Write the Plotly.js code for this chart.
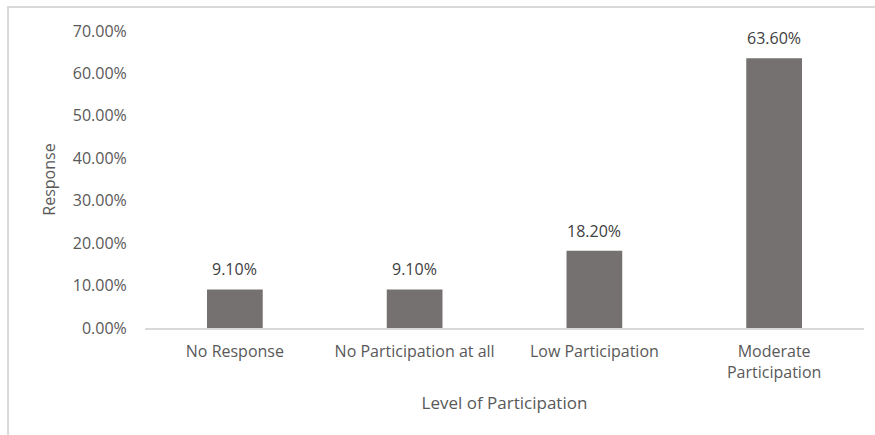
<!DOCTYPE html>
<html>
<head>
<meta charset="utf-8">
<script src="https://cdn.plot.ly/plotly-3.0.1.min.js"></script>
<style>html,body{margin:0;padding:0;background:#fff;}#chart{width:875px;height:435px;}</style>
</head>
<body>
<div id="chart"></div>
<script>
const categories = ["No Response", "No Participation at all", "Low Participation", "Moderate<br>Participation"];
const values = [0.091, 0.091, 0.182, 0.636];
const labels = ["9.10%", "9.10%", "18.20%", "63.60%"];
const yTickVals = [0, 0.1, 0.2, 0.3, 0.4, 0.5, 0.6, 0.7];

const fontFam = "Open Sans, sans-serif";
const txtColor = "#595959";

const trace = {
  type: "bar",
  x: categories,
  y: values,
  marker: {color: "#767171"},
  width: 0.31,
  hoverinfo: "skip"
};

const annotations = categories.map((c, i) => ({
  x: c, y: values[i], xref: "x", yref: "y",
  text: labels[i], showarrow: false, yanchor: "bottom", yshift: 7,
  font: {family: fontFam, size: 16, color: "#404040"}
}));

const layout = {
  width: 875, height: 435,
  margin: {l: 145, r: 11, t: 31, b: 107},
  paper_bgcolor: "#fff", plot_bgcolor: "#fff",
  showlegend: false,
  font: {family: fontFam, color: txtColor, size: 16},
  xaxis: {
    type: "category",
    showgrid: false, zeroline: false,
    showline: true, linecolor: "#d9d9d9", linewidth: 1.5,
    ticks: "outside", ticklen: 8, tickcolor: "rgba(0,0,0,0)",
    tickfont: {family: fontFam, size: 16, color: txtColor},
    title: {text: "Level of Participation", font: {family: fontFam, size: 17, color: txtColor}, standoff: 15}
  },
  yaxis: {
    range: [0, 0.7],
    tickvals: yTickVals,
    tickformat: ".2%",
    showgrid: false, zeroline: false, showline: false,
    ticks: "outside", ticklen: 14, tickcolor: "rgba(0,0,0,0)",
    tickfont: {family: fontFam, size: 16, color: txtColor},
    title: {text: "Response", font: {family: fontFam, size: 16, color: txtColor}, standoff: 13}
  },
  annotations: annotations,
  shapes: [{
    type: "rect", xref: "paper", yref: "paper",
    x0: -0.1905, x1: 1.05, y0: -0.5, y1: 1.081,
    line: {color: "#d9d9d9", width: 2}, fillcolor: "rgba(0,0,0,0)", layer: "below"
  }]
};

Plotly.newPlot("chart", [trace], layout, {displayModeBar: false, staticPlot: true});
</script>
</body>
</html>
